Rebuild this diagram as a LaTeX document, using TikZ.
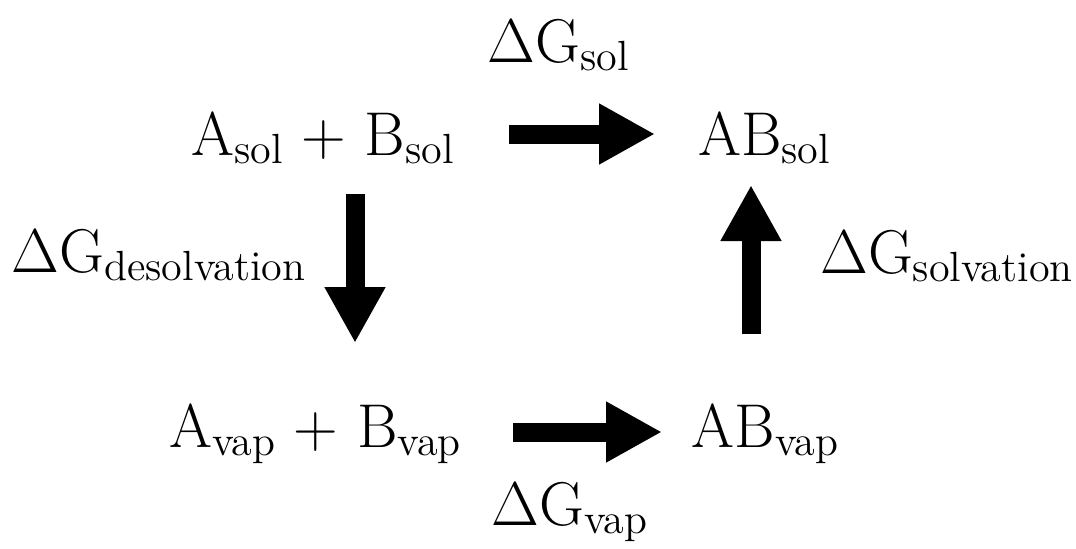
\documentclass[tikz,border=0pt]{standalone}
\usepackage{fontspec}
\usetikzlibrary{arrows.meta}
\newcommand{\lowsub}[1]{\raisebox{-0.08cm}{\fontsize{12}{14}\selectfont #1}}
\begin{document}
\begin{tikzpicture}[
    grand/.style={font=\fontsize{17.6}{22}\selectfont, inner sep=0pt, anchor=base},
    fleche/.style={line width=0.19cm, -{Triangle[length=0.56cm,width=0.57cm]}}
]
        \useasboundingbox (0,0) rectangle (10.76,-5.48); % Cadre de l'image

        % Les quatre états du cycle
        \node[grand] (solAB) at (3.225,-1.55) {A\lowsub{sol} + B\lowsub{sol}};
        \node[grand] (solProd) at (7.64,-1.55) {AB\lowsub{sol}};
        \node[grand] (vapAB) at (3.15,-4.47) {A\lowsub{vap} + B\lowsub{vap}};
        \node[grand] (vapProd) at (7.65,-4.47) {AB\lowsub{vap}};

        % Les énergies libres
        \node[grand] (Gsol) at (5.585,-0.62) {ΔG\lowsub{sol}};
        \node[grand] (Gdesolv) at (1.585,-2.72) {ΔG\lowsub{desolvation}};
        \node[grand] (Gsolv) at (9.465,-2.73) {ΔG\lowsub{solvation}};
        \node[grand] (Gvap) at (5.695,-5.25) {ΔG\lowsub{vap}};

        % Extrémités des flèches
        \coordinate (hautD) at (5.09,-1.34);
        \coordinate (hautA) at (6.55,-1.34);
        \coordinate (gaucheD) at (3.55,-1.94);
        \coordinate (gaucheA) at (3.55,-3.43);
        \coordinate (droiteD) at (7.51,-3.34);
        \coordinate (droiteA) at (7.51,-1.85);
        \coordinate (basD) at (5.13,-4.32);
        \coordinate (basA) at (6.62,-4.32);

        % Les flèches épaisses
        \draw[fleche] (hautD) -- (hautA);
        \draw[fleche] (gaucheD) -- (gaucheA);
        \draw[fleche] (droiteD) -- (droiteA);
        \draw[fleche] (basD) -- (basA);
    \end{tikzpicture}
\end{document}
